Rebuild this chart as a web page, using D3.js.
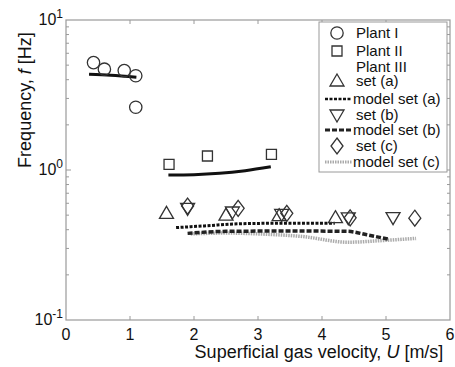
<!DOCTYPE html>
<html>
<head>
<meta charset="utf-8">
<script src="https://cdn.jsdelivr.net/npm/d3@7"></script>
<style>
  body { margin: 0; background: #fff; }
  text { font-family: "Liberation Sans", Arial, sans-serif; fill: #111; }
</style>
</head>
<body>
<svg id="chart" width="455" height="367"></svg>
<script>
// data
const plant1U = [0.43, 0.60, 0.91, 1.09, 1.09];
const plant1F = [5.2, 4.7, 4.6, 4.25, 2.62];
const plant1ModelU = [0.36, 0.7, 1.1];
const plant1ModelF = [4.35, 4.28, 4.15];

const plant2U = [1.61, 2.21, 3.21];
const plant2F = [1.09, 1.24, 1.27];
const plant2ModelU = [1.6, 2.0, 2.4, 2.8, 3.2];
const plant2ModelF = [0.925, 0.93, 0.95, 0.99, 1.05];

const setAU = [1.57, 2.50, 3.33, 4.21];
const setAF = [0.514, 0.50, 0.496, 0.481];
const setBU = [1.90, 2.60, 3.37, 4.41, 5.11];
const setBF = [0.555, 0.525, 0.506, 0.48, 0.481];
const setCU = [1.90, 2.69, 3.45, 4.44, 5.45];
const setCF = [0.575, 0.555, 0.514, 0.48, 0.477];

const modelAU = [1.72, 2.2, 2.7, 3.5, 4.2];
const modelAF = [0.413, 0.425, 0.438, 0.442, 0.442];
const modelBU = [1.9, 2.5, 3.5, 4.4, 4.7, 5.05];
const modelBF = [0.378, 0.39, 0.392, 0.39, 0.37, 0.345];
const modelCU = [1.95, 2.5, 3.0, 3.7, 4.4, 5.0, 5.47];
const modelCF = [0.375, 0.38, 0.375, 0.36, 0.33, 0.34, 0.35];

const xTicks = [0, 1, 2, 3, 4, 5, 6];
const yDecades = [0.1, 1, 10];
const yExps = ["-1", "0", "1"];

const svg = d3.select('#chart');
const x = d3.scaleLinear().domain([0, 6]).range([66, 450]);
const y = d3.scaleLog().domain([0.1, 10]).range([320, 20]);
const frame = '#9a9a9a';

// 轴框
svg.append('rect')
  .attr('x', x(0)).attr('y', y(10))
  .attr('width', x(6) - x(0)).attr('height', y(0.1) - y(10))
  .attr('fill', 'none').attr('stroke', frame).attr('stroke-width', 1.2);

// ticks inward on all four sides
const minor = [];
[0.1, 1].forEach(d => { for (let k = 2; k <= 9; k++) minor.push(d * k); });
const tk = svg.append('g').attr('stroke', frame).attr('stroke-width', 1);
xTicks.slice(1, -1).forEach(v => {
  tk.append('line').attr('x1', x(v)).attr('x2', x(v)).attr('y1', y(0.1)).attr('y2', y(0.1) - 4);
  tk.append('line').attr('x1', x(v)).attr('x2', x(v)).attr('y1', y(10)).attr('y2', y(10) + 4);
});
minor.concat([1]).forEach(v => {
  const len = v === 1 ? 5 : 3;
  tk.append('line').attr('x1', x(0)).attr('x2', x(0) + len).attr('y1', y(v)).attr('y2', y(v));
  tk.append('line').attr('x1', x(6)).attr('x2', x(6) - len).attr('y1', y(v)).attr('y2', y(v));
});

// tick labels
svg.append('g').selectAll('text').data(xTicks).enter().append('text')
  .attr('x', d => x(d)).attr('y', 340)
  .attr('text-anchor', 'middle').attr('font-size', 16)
  .text(d => d);

const yl = svg.append('g').selectAll('text').data(yDecades).enter().append('text')
  .attr('x', 63).attr('y', d => y(d) + 5)
  .attr('text-anchor', 'end').attr('font-size', 16);
yl.append('tspan').text('10');
yl.append('tspan').attr('dy', -7).attr('font-size', 12).text((d, i) => yExps[i]);

// axis titles
const xt = svg.append('text').attr('x', 319).attr('y', 358)
  .attr('text-anchor', 'middle').attr('font-size', 18);
xt.append('tspan').text('Superficial gas velocity, ');
xt.append('tspan').attr('font-style', 'italic').text('U');
xt.append('tspan').text(' [m/s]');

const yt = svg.append('text').attr('transform', 'translate(31,100) rotate(-90)')
  .attr('text-anchor', 'middle').attr('font-size', 18);
yt.append('tspan').text('Frequency, ');
yt.append('tspan').attr('font-style', 'italic').text('f');
yt.append('tspan').text(' [Hz]');

// model lines
const line = d3.line().curve(d3.curveMonotoneX);
function drawLine(us, fs, style) {
  svg.append('path')
    .attr('d', line(us.map((u, i) => [x(u), y(fs[i])])))
    .attr('fill', 'none')
    .attr('stroke', style.color)
    .attr('stroke-width', style.width)
    .attr('stroke-dasharray', style.dash || null);
}
const styles = {
  solid: { color: '#111', width: 3 },
  a: { color: '#111', width: 3, dash: '3,1.5' },
  b: { color: '#222', width: 3.5, dash: '5,2' },
  c: { color: '#aaa', width: 3.5, dash: '1.5,1' }
};
drawLine(plant1ModelU, plant1ModelF, styles.solid);
drawLine(plant2ModelU, plant2ModelF, styles.solid);
drawLine(modelCU, modelCF, styles.c);
drawLine(modelAU, modelAF, styles.a);
drawLine(modelBU, modelBF, styles.b);

// markers
const sym = {
  circle: d3.symbol().type(d3.symbolCircle).size(120),
  square: d3.symbol().type(d3.symbolSquare).size(100),
  up: 'M0,-7L7,5L-7,5Z',
  down: 'M0,7L7,-5L-7,-5Z',
  diamond: 'M0,-8L6,0L0,8L-6,0Z'
};
function drawPts(us, fs, shape) {
  svg.append('g').selectAll('path').data(us).enter().append('path')
    .attr('transform', (d, i) => `translate(${x(d)},${y(fs[i])})`)
    .attr('d', typeof sym[shape] === 'string' ? sym[shape] : sym[shape]())
    .attr('fill', 'none').attr('stroke', '#333').attr('stroke-width', 1.3);
}
drawPts(plant1U, plant1F, 'circle');
drawPts(plant2U, plant2F, 'square');
drawPts(setAU, setAF, 'up');
drawPts(setBU, setBF, 'down');
drawPts(setCU, setCF, 'diamond');

// legend
const lg = svg.append('g');
lg.append('rect').attr('x', 319).attr('y', 22).attr('width', 128).attr('height', 150)
  .attr('fill', '#fff').attr('stroke', frame).attr('stroke-width', 1);
const legendRows = [
  { label: 'Plant I', y: 33, shape: 'circle' },
  { label: 'Plant II', y: 51, shape: 'square' },
  { label: 'Plant III', y: 67 },
  { label: 'set (a)', y: 81, shape: 'up' },
  { label: 'model set (a)', y: 99, line: 'a' },
  { label: 'set (b)', y: 115, shape: 'down' },
  { label: 'model set (b)', y: 130, line: 'b' },
  { label: 'set (c)', y: 146, shape: 'diamond' },
  { label: 'model set (c)', y: 162, line: 'c' }
];
legendRows.forEach(r => {
  if (r.shape) {
    lg.append('path')
      .attr('transform', `translate(337,${r.y})`)
      .attr('d', typeof sym[r.shape] === 'string' ? sym[r.shape] : sym[r.shape]())
      .attr('fill', 'none').attr('stroke', '#333').attr('stroke-width', 1.3);
  }
  if (r.line) {
    const s = styles[r.line];
    lg.append('line').attr('x1', 325).attr('x2', 352).attr('y1', r.y).attr('y2', r.y)
      .attr('stroke', s.color).attr('stroke-width', s.width - 0.5)
      .attr('stroke-dasharray', s.dash);
  }
  lg.append('text').attr('x', r.line ? 353 : 356).attr('y', r.y + 5)
    .attr('font-size', 15).text(r.label);
});
</script>
</body>
</html>
